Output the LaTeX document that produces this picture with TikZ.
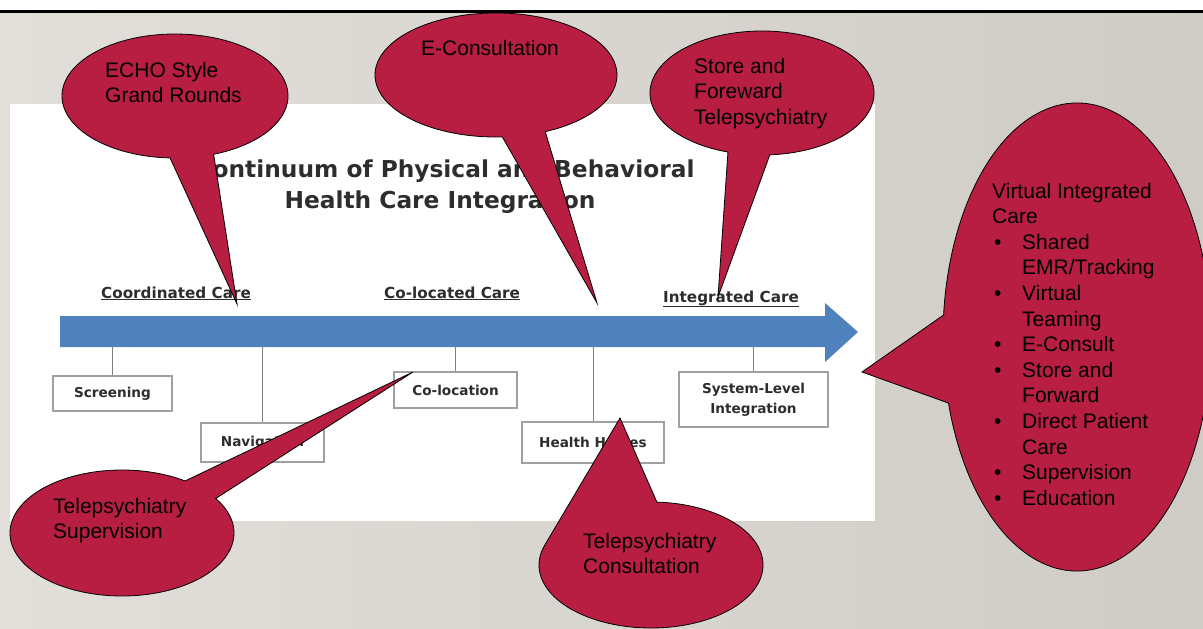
\documentclass[tikz,border=0pt]{standalone}
\usepackage{fontspec}
\setmainfont{Liberation Sans}
\newfontfamily\slidefont{DejaVu Sans}
\usetikzlibrary{calc}

\definecolor{bubblered}{RGB}{183,30,65}
\definecolor{arrowblue}{RGB}{79,129,189}
\definecolor{bgleft}{RGB}{226,223,218}
\definecolor{bgright}{RGB}{207,204,198}
\definecolor{inktext}{RGB}{45,45,45}
\definecolor{boxline}{RGB}{160,160,160}

% bullet and hanging indent for the list inside the right-hand bubble
\newcommand{\vicbullet}{\makebox[30pt][l]{\hspace{2pt}•}}
\newcommand{\vicindent}{\hspace*{30pt}}

\begin{document}
\begin{tikzpicture}[x=1pt,y=-1pt,
  bubble/.style={fill=bubblered, draw=black, line width=0.8pt, line join=miter},
  bubbletext/.style={anchor=north west, inner sep=0pt, align=left, text=black,
    font=\fontsize{21}{25.6}\selectfont},
  titletext/.style={anchor=base, inner sep=0pt, text=inktext,
    font=\slidefont\bfseries\fontsize{23.3}{28}\selectfont},
  phasetext/.style={anchor=base west, inner sep=0pt, text=inktext,
    font=\slidefont\bfseries\fontsize{15.2}{18}\selectfont},
  stagebox/.style={draw=boxline, line width=1.2pt, fill=white, inner sep=2pt,
    align=center, text=inktext, font=\slidefont\bfseries\fontsize{13.6}{20}\selectfont},
  stem/.style={draw=black!50, line width=0.8pt}]

\useasboundingbox (0,0) rectangle (1203,629);

% slide background, white header strip and black rule
\shade[left color=bgleft, right color=bgright] (0,12) rectangle (1203,629);
\fill[white] (0,0) rectangle (1203,9.5);
\fill[black] (0,9.5) rectangle (1203,12.5);

% white panel carrying the continuum chart
\fill[white] (10,104) rectangle (875,521);

% title
\node[titletext] (title1) at (445,177) {Continuum of Physical and Behavioral};
\node[titletext] (title2) at (440,208) {Health Care Integration};

% phase labels above the arrow
\node[phasetext] (coord)   at (101,298) {\underline{Coordinated Care}};
\node[phasetext] (coloc)   at (384,298) {\underline{Co-located Care}};
\node[phasetext] (integr)  at (663,302) {\underline{Integrated Care}};

% continuum arrow
\fill[arrowblue] (60,316) -- (825,316) -- (825,303) -- (858,332)
  -- (825,362) -- (825,347) -- (60,347) -- cycle;
\coordinate (shaftbot) at (0,347);

% stages hanging from the arrow
\node[stagebox, minimum width=119pt, minimum height=35pt] (scr) at (112.5,393.5) {Screening};
\node[stagebox, minimum width=123pt, minimum height=39pt] (nav) at (262.5,442.5) {Navigation};
\node[stagebox, minimum width=123pt, minimum height=36pt] (colo) at (455.5,390) {Co-location};
\node[stagebox, minimum width=142pt, minimum height=41pt] (hh) at (593,442.5) {Health Homes};
\node[stagebox, minimum width=149pt, minimum height=55pt] (sli) at (753.5,399.5) {System-Level\\Integration};

\foreach \b in {scr,nav,colo,hh,sli}
  \draw[stem] (\b.north) -- (\b.north |- shaftbot);

% callout bubbles: tail tip, ellipse centre
\coordinate (echoTip) at (237,304);   \coordinate (echoC) at (175,96);
\coordinate (econTip) at (597,303);   \coordinate (econC) at (496,75);
\coordinate (storeTip) at (718,297);  \coordinate (storeC) at (762,93);
\coordinate (virtTip) at (862,372);   \coordinate (virtC) at (1077,337);
\coordinate (supTip) at (413,372);    \coordinate (supC) at (122,533);
\coordinate (conTip) at (620,418);    \coordinate (conC) at (651,565);

\draw[bubble] (echoTip) -- ([shift={(echoC)}]92.5:113 and 62)
  arc[start angle=92.5, end angle=430, x radius=113, y radius=62] -- cycle;
\draw[bubble] (econTip) -- ([shift={(econC)}]87:121 and 62)
  arc[start angle=87, end angle=426, x radius=121, y radius=62] -- cycle;
\draw[bubble] (storeTip) -- ([shift={(storeC)}]107.7:112 and 62)
  arc[start angle=107.7, end angle=446, x radius=112, y radius=62] -- cycle;
\draw[bubble] (virtTip) -- ([shift={(virtC)}]163.6:134 and 234)
  arc[start angle=163.6, end angle=-174.6, x radius=134, y radius=234] -- cycle;
\draw[bubble] (supTip) -- ([shift={(supC)}]-33.2:112 and 63)
  arc[start angle=-33.2, end angle=304.3, x radius=112, y radius=63] -- cycle;
\draw[bubble] (conTip) -- ([shift={(conC)}]-87:112 and 63)
  arc[start angle=-87, end angle=197.2, x radius=112, y radius=63] -- cycle;

% bubble texts
\node[bubbletext] (echoT) at (105,61.7) {ECHO Style\\Grand Rounds};
\node[bubbletext] (econT) at (421,39.7) {E-Consultation};
\node[bubbletext] (storeT) at (694,57.7) {Store and\\Foreward\\Telepsychiatry};
\node[bubbletext] (virtT) at (992,182.7) {Virtual Integrated\\Care\\
  \vicbullet Shared\\\vicindent EMR/Tracking\\
  \vicbullet Virtual\\\vicindent Teaming\\
  \vicbullet E-Consult\\
  \vicbullet Store and\\\vicindent Forward\\
  \vicbullet Direct Patient\\\vicindent Care\\
  \vicbullet Supervision\\
  \vicbullet Education};
\node[bubbletext] (supT) at (53,497.7) {Telepsychiatry\\Supervision};
\node[bubbletext] (conT) at (583,532.7) {Telepsychiatry\\Consultation};

\end{tikzpicture}
\end{document}
